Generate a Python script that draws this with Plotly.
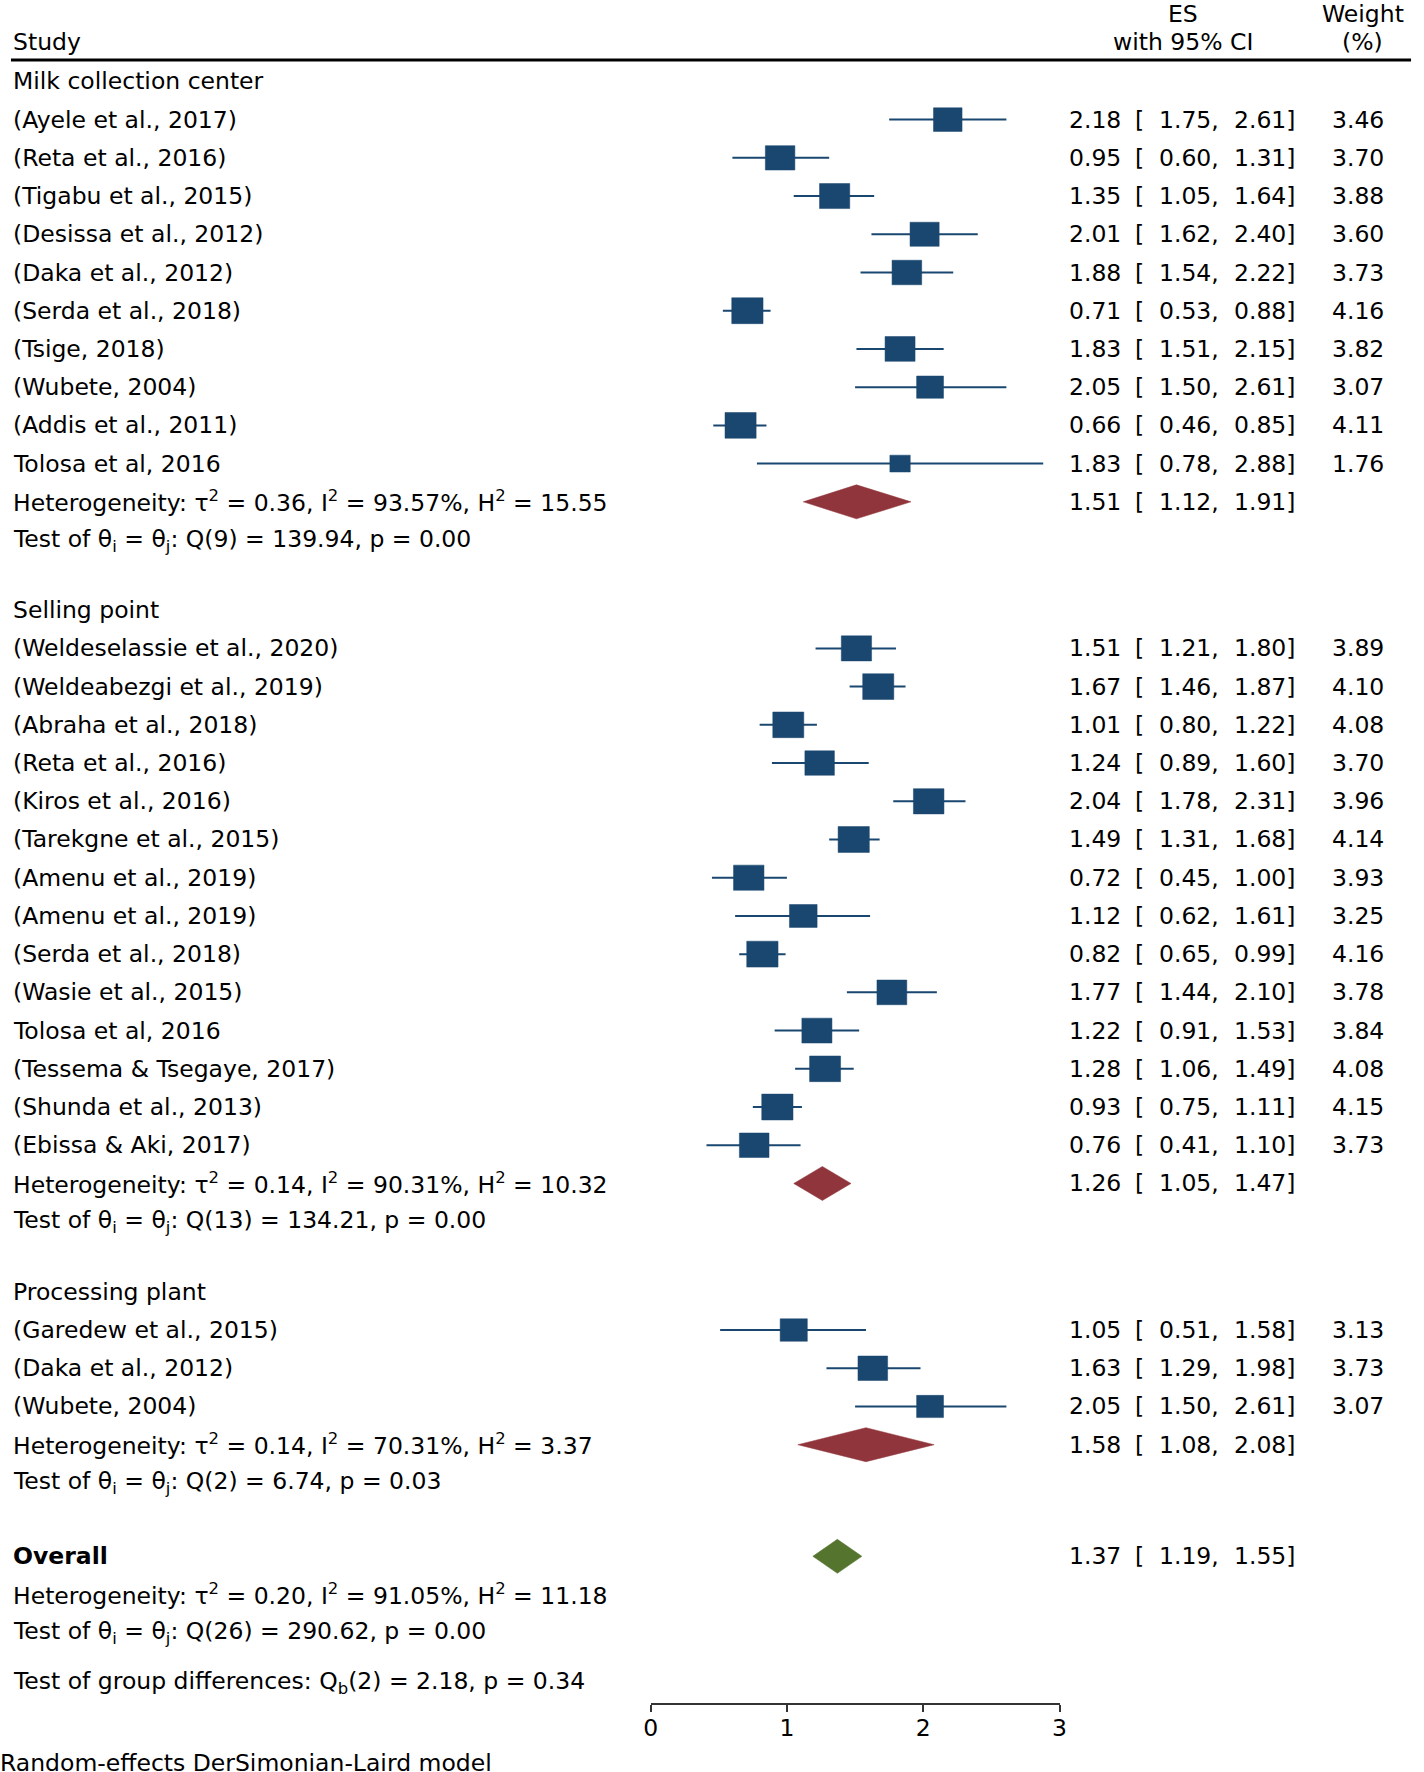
import numpy as np
import plotly.graph_objects as go

# ---- data ----
milk_names = ["(Ayele et al., 2017)", "(Reta et al., 2016)", "(Tigabu et al., 2015)",
              "(Desissa et al., 2012)", "(Daka et al., 2012)", "(Serda et al., 2018)",
              "(Tsige, 2018)", "(Wubete, 2004)", "(Addis et al., 2011)", "Tolosa et al, 2016"]
milk_es = [2.18, 0.95, 1.35, 2.01, 1.88, 0.71, 1.83, 2.05, 0.66, 1.83]
milk_lo = [1.75, 0.60, 1.05, 1.62, 1.54, 0.53, 1.51, 1.50, 0.46, 0.78]
milk_hi = [2.61, 1.31, 1.64, 2.40, 2.22, 0.88, 2.15, 2.61, 0.85, 2.88]
milk_w = [3.46, 3.70, 3.88, 3.60, 3.73, 4.16, 3.82, 3.07, 4.11, 1.76]

sell_names = ["(Weldeselassie et al., 2020)", "(Weldeabezgi et al., 2019)", "(Abraha et al., 2018)",
              "(Reta et al., 2016)", "(Kiros et al., 2016)", "(Tarekgne et al., 2015)",
              "(Amenu et al., 2019)", "(Amenu et al., 2019)", "(Serda et al., 2018)",
              "(Wasie et al., 2015)", "Tolosa et al, 2016", "(Tessema & Tsegaye, 2017)",
              "(Shunda et al., 2013)", "(Ebissa & Aki, 2017)"]
sell_es = [1.51, 1.67, 1.01, 1.24, 2.04, 1.49, 0.72, 1.12, 0.82, 1.77, 1.22, 1.28, 0.93, 0.76]
sell_lo = [1.21, 1.46, 0.80, 0.89, 1.78, 1.31, 0.45, 0.62, 0.65, 1.44, 0.91, 1.06, 0.75, 0.41]
sell_hi = [1.80, 1.87, 1.22, 1.60, 2.31, 1.68, 1.00, 1.61, 0.99, 2.10, 1.53, 1.49, 1.11, 1.10]
sell_w = [3.89, 4.10, 4.08, 3.70, 3.96, 4.14, 3.93, 3.25, 4.16, 3.78, 3.84, 4.08, 4.15, 3.73]

proc_names = ["(Garedew et al., 2015)", "(Daka et al., 2012)", "(Wubete, 2004)"]
proc_es = [1.05, 1.63, 2.05]
proc_lo = [0.51, 1.29, 1.50]
proc_hi = [1.58, 1.98, 2.61]
proc_w = [3.13, 3.73, 3.07]

group_labels = ["Milk collection center", "Selling point", "Processing plant"]
group_pooled = [(1.51, 1.12, 1.91), (1.26, 1.05, 1.47), (1.58, 1.08, 2.08)]
group_het = [("0.36", "93.57", "15.55"), ("0.14", "90.31", "10.32"), ("0.14", "70.31", "3.37")]
group_q = [("9", "139.94", "0.00"), ("13", "134.21", "0.00"), ("2", "6.74", "0.03")]

overall_pooled = (1.37, 1.19, 1.55)
overall_het = ("0.20", "91.05", "11.18")
overall_q = ("26", "290.62", "0.00")
group_diff = ("2", "2.18", "0.34")

groups = [
    (milk_names, milk_es, milk_lo, milk_hi, milk_w),
    (sell_names, sell_es, sell_lo, sell_hi, sell_w),
    (proc_names, proc_es, proc_lo, proc_hi, proc_w),
]

# ---- styling ----
W, H = 1424, 1772
FONT = "DejaVu Sans"
FS = 23.5
NAVY = "#1a476f"
MAROON = "#90353b"
GREEN = "#55752f"
ROW_PX = 38.22          # pixels per row
TOP_PX = 81.4           # pixel y of first row
X0_PX, X3_PX = 650, 1063
PX_PER_X = (X3_PX - X0_PX) / 3.0
GAP = 1.835
LX = 4


def px(x):
    return x / W


def row(ypix):
    return (ypix - TOP_PX) / ROW_PX


annots = []


def text(x, y, s, anchor="left"):
    annots.append(dict(x=px(x), y=y, xref="paper", yref="y", text=s, showarrow=False,
                       xanchor=anchor, yanchor="middle",
                       font=dict(family=FONT, size=FS, color="black")))


def ci_text(y, es, lo, hi, w=None):
    text(1127, y, f"{es:.2f}", "right")
    text(1137, y, "[", "left")
    text(1226, y, f"{lo:.2f},", "right")
    text(1304, y, f"{hi:.2f}]", "right")
    if w is not None:
        text(1393, y, f"{w:.2f}", "right")


def het_str(h):
    return (f"Heterogeneity: τ<sup>2</sup> = {h[0]}, I<sup>2</sup> = {h[1]}%, "
            f"H<sup>2</sup> = {h[2]}")


def q_str(q):
    return f"Test of θ<sub>i</sub> = θ<sub>j</sub>: Q({q[0]}) = {q[1]}, p = {q[2]}"


ci_x, ci_y = [], []
box_x, box_y = [], []
dia_x, dia_y = [], []

y = 0.0
for g, (names, es, lo, hi, w) in enumerate(groups):
    text(LX, y, group_labels[g])
    for i in range(len(names)):
        y += 1
        text(LX, y, names[i])
        ci_text(y, es[i], lo[i], hi[i], w[i])
        ci_x += [lo[i], hi[i], None]
        ci_y += [y, y, None]
        hw = 15.5 * np.sqrt(w[i]) / 2 / PX_PER_X
        hh = 12.7 * np.sqrt(w[i]) / 2 / ROW_PX
        box_x += [es[i] - hw, es[i] + hw, es[i] + hw, es[i] - hw, es[i] - hw, None]
        box_y += [y - hh, y - hh, y + hh, y + hh, y - hh, None]
    y += 1
    text(LX, y, het_str(group_het[g]))
    pe, pl, ph = group_pooled[g]
    ci_text(y, pe, pl, ph)
    dh = 17 / ROW_PX
    dia_x += [pl, pe, ph, pe, pl, None]
    dia_y += [y, y - dh, y, y + dh, y, None]
    y += 1
    text(LX, y, q_str(group_q[g]))
    y += GAP if g < 2 else 1.92

# overall
text(LX, y, "<b>Overall</b>")
oe, ol, oh = overall_pooled
ci_text(y, oe, ol, oh)
dh = 17 / ROW_PX
ov_x = [ol, oe, oh, oe, ol]
ov_y = [y, y - dh, y, y + dh, y]
y += 1
text(LX, y, het_str(overall_het))
y += 1
text(LX, y, q_str(overall_q))
y += 1.31
text(LX, y, f"Test of group differences: Q<sub>b</sub>({group_diff[0]}) = {group_diff[1]}, "
            f"p = {group_diff[2]}")
text(-9, row(1763), "Random-effects DerSimonian-Laird model")

# header
text(LX, row(41.8), "Study")
text(1188, row(14), "ES", "center")
text(1188, row(41.8), "with 95% CI", "center")
text(1369, row(14), "Weight", "center")
text(1369, row(41.8), "(%)", "center")

fig = go.Figure()
fig.add_trace(go.Scatter(x=ci_x, y=ci_y, mode="lines",
                         line=dict(color=NAVY, width=2), hoverinfo="skip"))
fig.add_trace(go.Scatter(x=box_x, y=box_y, mode="lines", fill="toself",
                         fillcolor=NAVY, line=dict(color=NAVY, width=0.5),
                         hoverinfo="skip"))
fig.add_trace(go.Scatter(x=dia_x, y=dia_y, mode="lines", fill="toself",
                         fillcolor=MAROON, line=dict(color=MAROON, width=0.5),
                         hoverinfo="skip"))
fig.add_trace(go.Scatter(x=ov_x, y=ov_y, mode="lines", fill="toself",
                         fillcolor=GREEN, line=dict(color=GREEN, width=0.5),
                         hoverinfo="skip"))

y_top = -TOP_PX / ROW_PX
y_bot = (H - TOP_PX) / ROW_PX

fig.update_layout(
    width=W, height=H,
    margin=dict(l=0, r=0, t=0, b=0),
    paper_bgcolor="white", plot_bgcolor="white",
    showlegend=False,
    annotations=annots,
    shapes=[dict(type="line", xref="paper", yref="y", x0=px(4), x1=px(1418),
                 y0=row(60), y1=row(60), line=dict(color="black", width=3))],
    xaxis=dict(domain=[px(X0_PX), px(X3_PX)], range=[0, 3], anchor="free",
               position=1 - 1704 / H, showline=True, linecolor="#333",
               linewidth=2, ticks="outside", ticklen=7, tickwidth=2, tickcolor="#333",
               tickvals=[0, 1, 2, 3], showgrid=False, zeroline=False,
               ticklabelstandoff=-4,
               tickfont=dict(family=FONT, size=FS, color="black")),
    yaxis=dict(domain=[0, 1], range=[y_bot, y_top], visible=False),
)

# drop the default page margin so the figure sits at the window corner
fig.write_html("out.html", config={"displayModeBar": False},
               post_script="document.body.style.margin = '0px';")
